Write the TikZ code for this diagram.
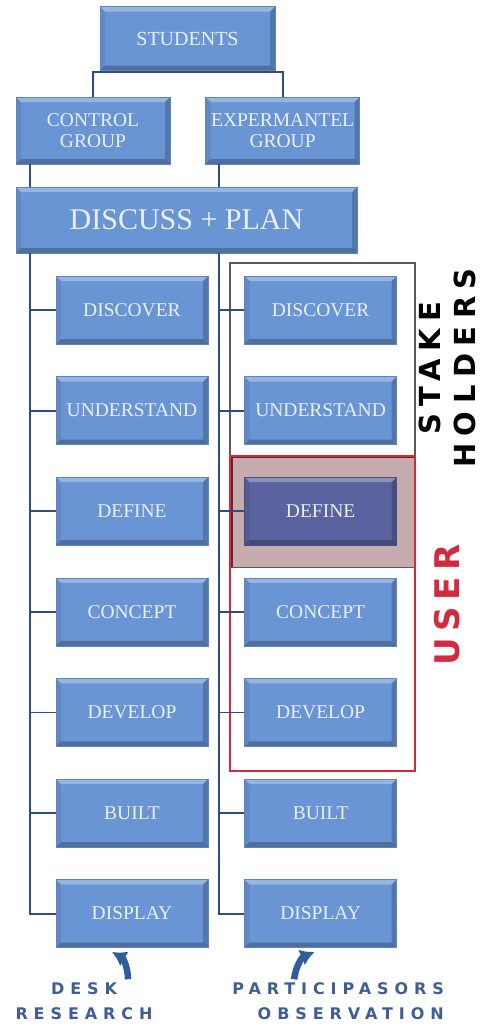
\documentclass[tikz,border=0pt]{standalone}
\usepackage{fontspec}
\setmainfont{Liberation Serif}
\newfontfamily\wideface[LetterSpace=37]{DejaVu Sans}
\newfontfamily\stakeface[LetterSpace=26]{DejaVu Sans}
\newfontfamily\userface[LetterSpace=20]{DejaVu Sans}
\usetikzlibrary{positioning, arrows.meta, backgrounds}

\definecolor{boxblue}{HTML}{6A95D4}
\definecolor{boxedge}{HTML}{5A84C4}
\definecolor{boxtext}{HTML}{EAF0FA}
\definecolor{pickblue}{HTML}{5B62A0}
\definecolor{linkblue}{HTML}{2E4C8A}
\definecolor{holdgray}{HTML}{5A5A5A}
\definecolor{userred}{HTML}{D42A3E}
\definecolor{pickshade}{HTML}{C6ABAF}
\definecolor{pickedge}{HTML}{6B2432}
\definecolor{tagblue}{HTML}{3E5E96}
\definecolor{arrowblue}{HTML}{2F5E9E}

\begin{document}
\begin{tikzpicture}[
        x = 1pt, y = -1pt, % page units, y runs down
        node distance = 32pt and 36pt, % gap between boxes
        box/.style = {
            rectangle, fill = boxblue, draw = boxedge, line width = 0.6pt,
            minimum width = 152pt, minimum height = 68pt, inner sep = 0pt,
            text = boxtext, align = center,
            font = \fontsize{19.5}{21}\selectfont,
            path picture = {
                % bevelled edges
                \fill[white, opacity = 0.3] (path picture bounding box.north west)
                    -- (path picture bounding box.north east)
                    -- ([shift = {(-5pt,-5pt)}]path picture bounding box.north east)
                    -- ([shift = {(5pt,-5pt)}]path picture bounding box.north west) -- cycle;
                \fill[black, opacity = 0.25] (path picture bounding box.south west)
                    -- (path picture bounding box.south east)
                    -- ([shift = {(-5pt,5pt)}]path picture bounding box.south east)
                    -- ([shift = {(5pt,5pt)}]path picture bounding box.south west) -- cycle;
                \fill[black, opacity = 0.2] (path picture bounding box.north east)
                    -- (path picture bounding box.south east)
                    -- ([shift = {(-5pt,5pt)}]path picture bounding box.south east)
                    -- ([shift = {(-5pt,-5pt)}]path picture bounding box.north east) -- cycle;
                \fill[black, opacity = 0.08] (path picture bounding box.north west)
                    -- (path picture bounding box.south west)
                    -- ([shift = {(5pt,5pt)}]path picture bounding box.south west)
                    -- ([shift = {(5pt,-5pt)}]path picture bounding box.north west) -- cycle;
            }
        },
        pick/.style = {box, fill = pickblue, draw = pickblue!80!black},
        link/.style = {draw = linkblue, line width = 1.8pt},
        tag/.style = {text = black, align = center, inner sep = 0pt,
            font = \stakeface\bfseries\fontsize{29}{35}\selectfont},
        usertag/.style = {text = userred, inner sep = 0pt,
            font = \userface\bfseries\fontsize{34}{36}\selectfont},
        footnote/.style = {text = tagblue, align = center, inner sep = 0pt,
            font = \wideface\bfseries\fontsize{16}{25}\selectfont},
        uparrow/.style = {-{Latex[length = 14pt, width = 17pt]},
            draw = arrowblue, line width = 6.5pt}
    ]

    \useasboundingbox (0,0) rectangle (485,1026);

    % top of the tree
    \node[box, minimum width = 175pt, minimum height = 64pt,
        font = \fontsize{20}{22}\selectfont] (students) at (187.5,38.5) {STUDENTS};
    \node[box, minimum width = 154pt, minimum height = 67pt] (control) at (93,130.5) {CONTROL\\GROUP};
    \node[box, minimum width = 154pt, minimum height = 67pt] (expgroup) [right = 35pt of control] {EXPERMANTEL\\GROUP};
    \node[box, minimum width = 341pt, minimum height = 66pt,
        font = \fontsize{30}{32}\selectfont] (plan) at (186.5,220) {DISCUSS + PLAN};

    % control group column
    \node[box] (discoverA) at (132,310) {DISCOVER};
    \node[box] (understandA) [below = of discoverA] {UNDERSTAND};
    \node[box] (defineA) [below = of understandA] {DEFINE};
    \node[box] (conceptA) [below = of defineA] {CONCEPT};
    \node[box] (developA) [below = of conceptA] {DEVELOP};
    \node[box] (builtA) [below = of developA] {BUILT};
    \node[box] (displayA) [below = of builtA] {DISPLAY};

    % experimental group column
    \node[box] (discoverB) [right = of discoverA] {DISCOVER};
    \node[box] (understandB) [below = of discoverB] {UNDERSTAND};
    \node[pick] (defineB) [below = of understandB] {DEFINE};
    \node[box] (conceptB) [below = of defineB] {CONCEPT};
    \node[box] (developB) [below = of conceptB] {DEVELOP};
    \node[box] (builtB) [below = of developB] {BUILT};
    \node[box] (displayB) [below = of builtB] {DISPLAY};

    % connectors
    \coordinate (trunkA) at ([xshift = 14pt]plan.south west);
    \coordinate (trunkB) at ([xshift = 14pt]expgroup.south west |- plan.south);

    \draw[link] (control.north) |- ([yshift = -1pt]students.south) -| (expgroup.north);
    \draw[link] ([xshift = 14pt]control.south west) -- (trunkA |- plan.north);
    \draw[link] ([xshift = 14pt]expgroup.south west) -- (trunkB |- plan.north);

    \draw[link] (trunkA) |- (displayA.west);
    \draw[link] (discoverA.west) -- (discoverA.west -| trunkA);
    \draw[link] (understandA.west) -- (understandA.west -| trunkA);
    \draw[link] (defineA.west) -- (defineA.west -| trunkA);
    \draw[link] (conceptA.west) -- (conceptA.west -| trunkA);
    \draw[link] (developA.west) -- (developA.west -| trunkA);
    \draw[link] (builtA.west) -- (builtA.west -| trunkA);

    \draw[link] (trunkB) |- (displayB.west);
    \draw[link] (discoverB.west) -- (discoverB.west -| trunkB);
    \draw[link] (understandB.west) -- (understandB.west -| trunkB);
    \draw[link] (defineB.west) -- (defineB.west -| trunkB);
    \draw[link] (conceptB.west) -- (conceptB.west -| trunkB);
    \draw[link] (developB.west) -- (developB.west -| trunkB);
    \draw[link] (builtB.west) -- (builtB.west -| trunkB);

    % stakeholder and user frames
    \coordinate (holdNW) at ([shift = {(-14pt,13pt)}]discoverB.north west);
    \coordinate (holdSE) at ([shift = {(18pt,-22pt)}]defineB.south east);
    \coordinate (userNW) at ([shift = {(-14pt,21pt)}]defineB.north west);
    \coordinate (userSE) at ([shift = {(18pt,-24pt)}]developB.south east);

    \begin{scope}[on background layer]
        \fill[pickshade] (userNW) rectangle (holdSE);
        \draw[pickedge, line width = 1.6pt] ([shift = {(1.5pt,-1.5pt)}]userNW) rectangle (holdSE);
        \draw[holdgray, line width = 1.8pt] (holdNW) rectangle (holdSE);
        \draw[userred, line width = 2pt] (userNW) rectangle (userSE);
    \end{scope}

    \node[tag, rotate = 90] (stake) at (447,368) {STAKE\\HOLDERS};
    \node[usertag, rotate = 90] (user) at (447,605) {USER};

    % research methods
    \node[footnote] (desk) at (84,1001) {DESK\\RESEARCH};
    \node[footnote, align = right, anchor = east] (observe) at (444,1001) {PARTICIPASORS\\OBSERVATION};

    \draw[uparrow] ([shift = {(44pt,3pt)}]desk.north) to[bend right = 30] ([shift = {(-20pt,-4pt)}]displayA.south);
    \draw[uparrow] ([shift = {(-44pt,3pt)}]observe.north) to[bend left = 30] ([shift = {(-6pt,-4pt)}]displayB.south);

\end{tikzpicture}
\end{document}
